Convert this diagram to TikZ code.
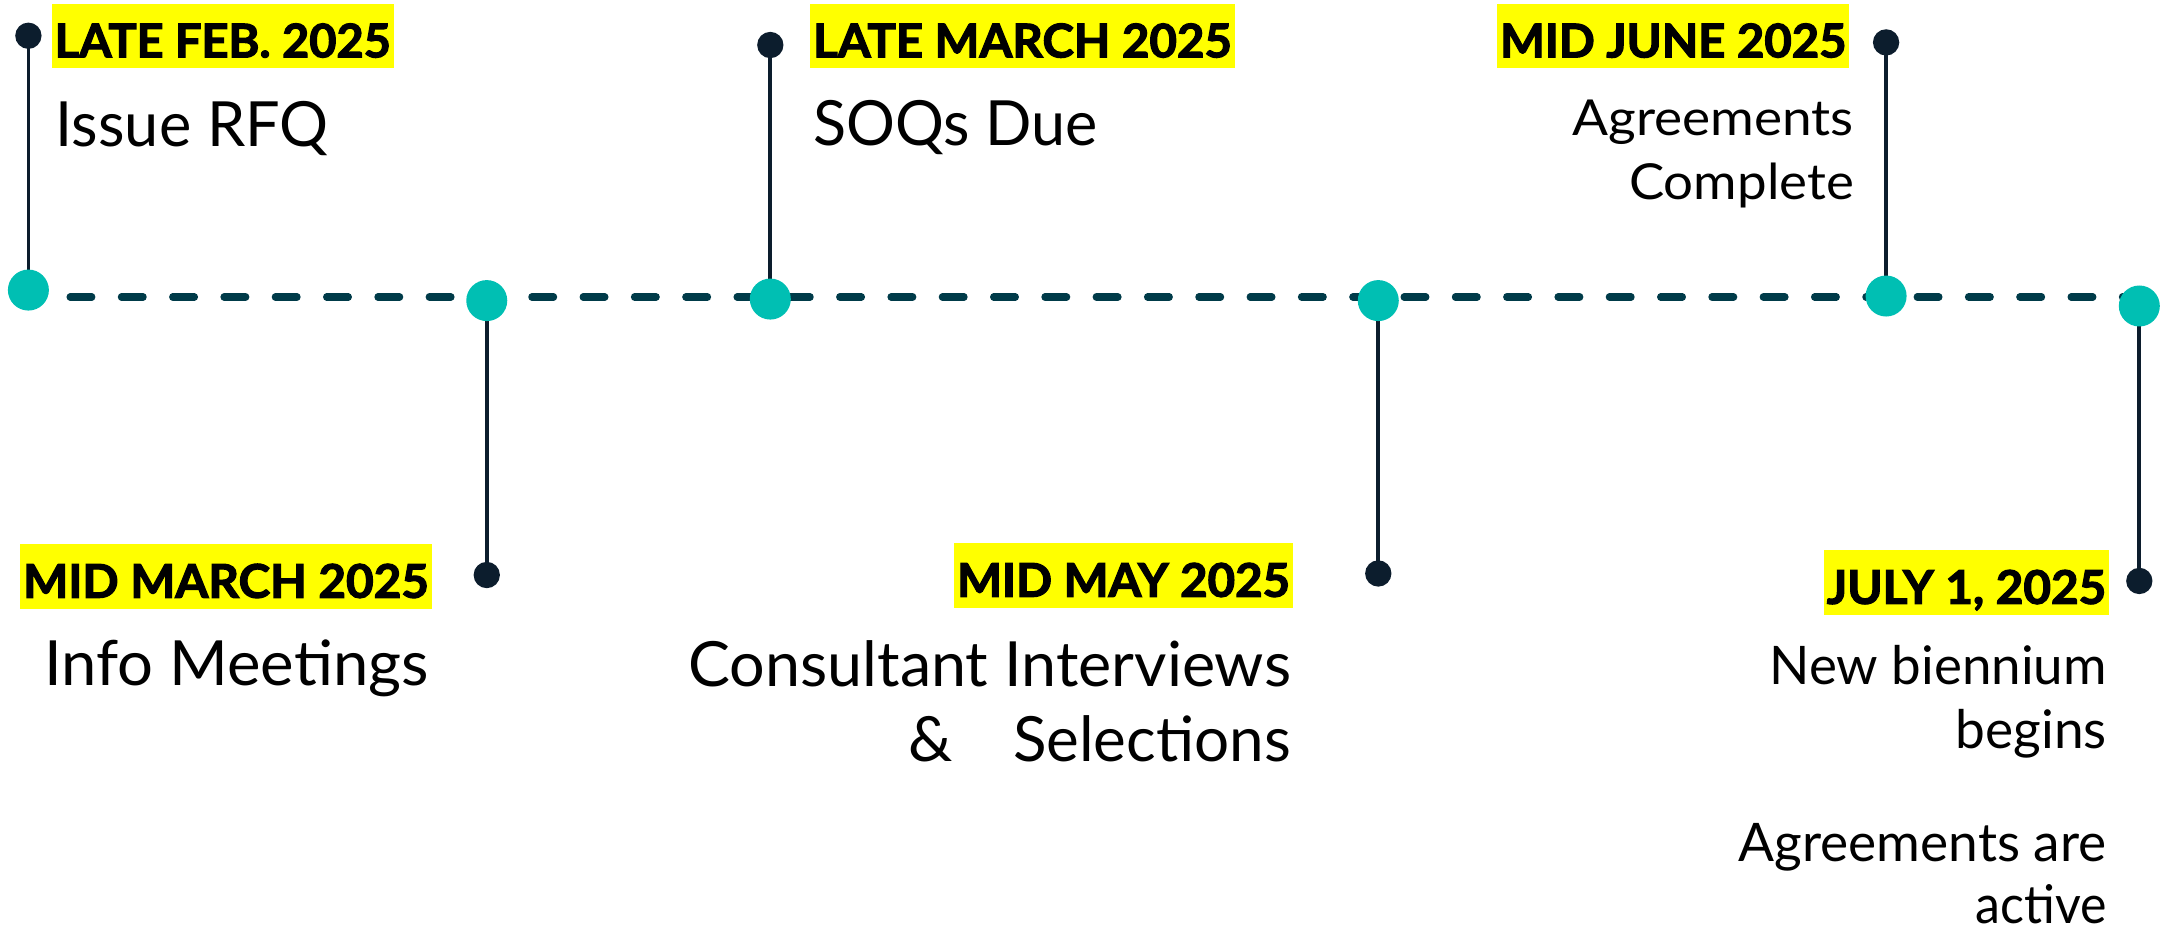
\documentclass[tikz,border=0pt]{standalone}
\usepackage{fontspec}
\setmainfont{Lato}[BoldFeatures={FakeBold=2.5}]
\usepackage{graphicx}
\definecolor{dotteal}{HTML}{00BFB3}
\definecolor{dashteal}{HTML}{003B49}
\definecolor{navy}{HTML}{0C1D2D}
\definecolor{hiyellow}{HTML}{FFFF00}
\newcommand\fitto[2]{\resizebox{#1}{\height}{#2}}
\tikzset{
  tealdot/.style={circle, fill=dotteal, inner sep=0pt, minimum size=14.8pt},
  navydot/.style={circle, fill=navy, inner sep=0pt, minimum size=9.5pt},
  stemline/.style={draw=navy, line width=1.33pt},
  timeline/.style={draw=dashteal, line width=2.65pt, line cap=round,
    dash pattern=on 7.8pt off 10.72pt, dash phase=3.45pt},
  datebox/.style={fill=hiyellow, inner xsep=1pt, inner ysep=0pt,
    text height=19.25pt, text depth=3.9pt,
    font=\bfseries\fontsize{16.75}{20}\selectfont},
  bigdesc/.style={inner sep=0pt, font=\fontsize{22.5}{27}\selectfont},
  middesc/.style={inner sep=0pt, font=\fontsize{17.9}{22}\selectfont},
  enddesc/.style={inner sep=0pt, font=\fontsize{19.2}{23}\selectfont},
}
\begin{document}
\begin{tikzpicture}[x=0.5pt, y=-0.5pt]
\useasboundingbox (0,0) rectangle (1568,669);
% anchor coordinates
\coordinate (t1) at (20.5,209.4);
\coordinate (t2) at (351.4,217);
\coordinate (t3) at (556.1,215.9);
\coordinate (t4) at (995,217);
\coordinate (t5) at (1361.6,213.7);
\coordinate (t6) at (1544.4,220.9);
\coordinate (s1) at (20.5,25.8);
\coordinate (s2) at (351.4,415.1);
\coordinate (s3) at (556.1,32.5);
\coordinate (s4) at (995,414);
\coordinate (s5) at (1361.6,30.6);
\coordinate (s6) at (1544.4,419.4);
\coordinate (ls) at (20.5,214.4);
\coordinate (le) at (1544.4,214.4);
% timeline and stems
\draw[timeline] (ls) -- (le);
\foreach \i in {1,...,6}{\draw[stemline] (s\i) -- (t\i);}
% dots
\foreach \i in {1,...,6}{
  \node[tealdot] (T\i) at (t\i) {};
  \node[navydot] (S\i) at (s\i) {};
}
% date labels
\node[datebox, anchor=base west] (d1) at (37.1,41.4) {\fitto{121.35pt}{LATE FEB. 2025}};
\node[datebox, anchor=base east] (d2) at (312,431.5) {\fitto{146.4pt}{MID MARCH 2025}};
\node[datebox, anchor=base west] (d3) at (584.6,41.4) {\fitto{151.15pt}{LATE MARCH 2025}};
\node[datebox, anchor=base east] (d4) at (933.7,430.8) {\fitto{120.15pt}{MID MAY 2025}};
\node[datebox, anchor=base east] (d5) at (1335.4,41.4) {\fitto{125pt}{MID JUNE 2025}};
\node[datebox, anchor=base east] (d6) at (1522.9,435.9) {\fitto{100.85pt}{JULY 1, 2025}};
% descriptions
\node[bigdesc, anchor=base west] (e1) at (39.8,105.4) {\fitto{98.5pt}{Issue RFQ}};
\node[bigdesc, anchor=base west] (e3) at (586.6,105.2) {\fitto{102.75pt}{SOQs Due}};
\node[bigdesc, anchor=base east] (e2) at (310,495) {\fitto{138.9pt}{Info Meetings}};
\node[bigdesc, anchor=base east] (e4a) at (932.4,495.3) {\fitto{217.5pt}{Consultant Interviews}};
\node[bigdesc, anchor=base east] (e4b) at (932.4,549.9) {\makebox[137.95pt]{\&\hfill\fitto{100.3pt}{Selections}}};
\node[middesc, anchor=base east] (e5a) at (1338.7,97.5) {\fitto{101.55pt}{Agreements}};
\node[middesc, anchor=base east] (e5b) at (1338.7,143.9) {\fitto{81.1pt}{Complete}};
\node[enddesc, anchor=base east] (e6a) at (1521.3,494.1) {\fitto{121.75pt}{New biennium}};
\node[enddesc, anchor=base east] (e6b) at (1521.3,540.4) {\fitto{54.55pt}{begins}};
\node[enddesc, anchor=base east] (e6c) at (1521.3,621.6) {\fitto{132.85pt}{Agreements are}};
\node[enddesc, anchor=base east] (e6d) at (1521.3,666.5) {\fitto{47.35pt}{active}};
\end{tikzpicture}
\end{document}
